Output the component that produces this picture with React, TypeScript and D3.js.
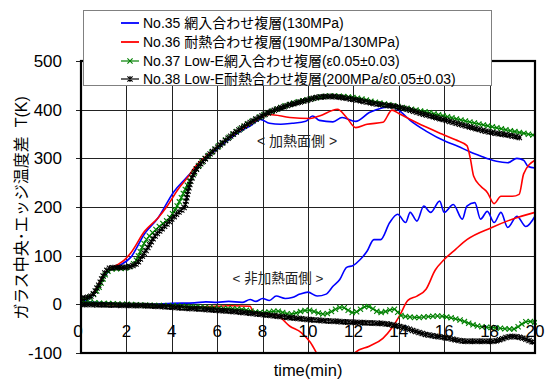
import React, { useEffect, useRef } from "react";
import * as d3 from "d3";

// time (min), temperature difference (K)
const no35Heated: [number, number][] = [
  [0, 5], [0.5, 18], [1, 55], [1.3, 72], [1.7, 80], [2.2, 97], [2.8, 145], [3.4, 178], [4.1, 232], [4.6, 258],
  [5, 278], [5.5, 300], [6, 320], [6.5, 338], [7, 355], [7.5, 368], [7.9, 380], [8.3, 372], [8.8, 370], [9.3, 372],
  [9.9, 376], [10.2, 387], [10.5, 378], [11.1, 375], [11.5, 384], [12.1, 376], [12.7, 394], [13.3, 404], [13.7, 406],
  [14.05, 397], [14.5, 378], [15.2, 356], [16.1, 334], [16.6, 325], [17.1, 314], [17.6, 305], [18.0, 298], [18.3, 294],
  [18.8, 291], [19.2, 300], [19.5, 296], [19.7, 283], [20, 280],
];
const no36Heated: [number, number][] = [
  [0, 8], [0.5, 20], [1, 60], [1.3, 74], [1.63, 82], [1.93, 92], [2.2, 106], [2.8, 150], [3.4, 178], [3.8, 202],
  [4.27, 236], [4.7, 261], [5, 281], [5.7, 312], [6.3, 335], [6.9, 355], [7.5, 372], [8.3, 390], [9.2, 384], [10.1, 382],
  [10.5, 387], [11.3, 401], [11.7, 384], [12.1, 363], [12.6, 370], [13.3, 374], [13.7, 399], [14, 392], [14.8, 373],
  [15.9, 350], [16.5, 338], [17.0, 326], [17.15, 300], [17.3, 263], [17.6, 243], [17.9, 230], [18.2, 207], [18.5, 222],
  [19.0, 222], [19.3, 226], [19.5, 268], [20, 296],
];
const no37Heated: [number, number][] = [
  [0, 10], [0.4, 15], [0.75, 31], [1.06, 60], [1.3, 72], [2, 75], [2.4, 88], [2.8, 127], [3.4, 158], [3.96, 181],
  [4.27, 205], [4.7, 246], [5.2, 285], [5.7, 310], [6.3, 335], [7, 360], [8, 388], [9, 408], [10, 421], [11, 428],
  [12, 425], [13, 415], [14, 406], [15, 397], [16, 387], [17, 376], [18, 366], [19, 356], [20, 347],
];
const no38Heated: [number, number][] = [
  [0, 12], [0.44, 17], [0.75, 37], [1.06, 65], [1.3, 75], [1.93, 76], [2.4, 82], [2.8, 106], [3.26, 140], [3.7, 161],
  [4.27, 188], [4.58, 202], [4.7, 229], [4.85, 255], [5.46, 298], [6, 322], [6.8, 353], [8, 388], [9, 407], [10, 420],
  [10.5, 426], [11, 427], [12, 421], [13, 412], [14, 405], [15, 392], [16, 379], [17, 366], [18, 354], [19, 346], [19.4, 342],
];

const no35Unheated: [number, number][] = [
  [0, 5], [1, 3], [2, 0], [3, 0], [4, 2], [5, 3], [5.5, 5], [6, 4], [6.5, 6], [7.1, 4], [7.45, 10], [7.7, 6], [8, 12],
  [8.3, 8], [8.6, 17], [9, 12], [9.3, 14], [9.65, 21], [10, 25], [10.4, 17], [10.8, 21], [11.1, 37], [11.4, 51],
  [11.7, 76], [12, 80], [12.3, 92], [12.6, 109], [12.9, 133], [13.2, 133], [13.6, 168], [13.95, 185], [14.3, 168],
  [14.5, 189], [14.8, 171], [15.1, 202], [15.4, 189], [15.8, 212], [16, 189], [16.4, 205], [16.8, 175], [17.0, 202],
  [17.35, 209], [17.6, 175], [17.9, 191], [18.2, 168], [18.5, 189], [18.8, 158], [19.2, 181], [19.6, 160], [20, 181],
];
const no36Unheated: [number, number][] = [
  [0, 2], [1, 0], [2, -2], [3, -3], [4, -4], [5, -5], [6, -4], [6.6, -3], [7.45, -4], [7.6, -18], [8.6, -22], [9.2, -45],
  [9.7, -58], [10.1, -78], [10.5, -110], [11.2, -150], [11.9, -110], [12.1, -98], [12.7, -86], [13.3, -70], [13.7, -48],
  [14.05, -22], [14.4, 8], [14.8, 17], [15.2, 31], [15.6, 70], [16, 92], [16.5, 113], [17, 133], [18.1, 158], [19, 175], [20, 189],
];
const no37Unheated: [number, number][] = [
  [0, 5], [1, 2], [2, 0], [3, -2], [4, -3], [5, -5], [6, -8], [7, -10], [8, -17], [8.6, -14], [9.2, -20], [10, -12],
  [10.7, -20], [11.5, -6], [12, -17], [12.6, -4], [13.2, -17], [13.8, -10], [14.1, -23], [14.8, -27], [15.7, -24],
  [16.6, -31], [17.5, -45], [18.2, -48], [19, -51], [19.7, -35], [20, -37],
];
const no38Unheated: [number, number][] = [
  [0, 0], [1, -1], [2, -2], [3, -3], [4, -6], [5, -9], [6, -12], [6.56, -14], [8, -21], [10, -31], [12, -37], [13.4, -40],
  [14, -45], [15.2, -62], [16, -68], [17, -76], [18.1, -76], [19, -66], [19.5, -70], [20, -80],
];

const legendLabels = [
  "No.35 網入合わせ複層(130MPa)",
  "No.36 耐熱合わせ複層(190MPa/130MPa)",
  "No.37 Low-E網入合わせ複層(ε0.05±0.03)",
  "No.38 Low-E耐熱合わせ複層(200MPa/ε0.05±0.03)",
];
const seriesColors = ["#0000ff", "#ff0000", "#008000", "#000000"];
const seriesMarkers = ["none", "none", "x", "star"];
const xTicks = [0, 2, 4, 6, 8, 10, 12, 14, 16, 18, 20];
const yTicks = [-100, 0, 100, 200, 300, 400, 500];

const FONT = "Arial, 'Liberation Sans', 'Noto Sans CJK JP', sans-serif";

export default function App() {
  const ref = useRef<SVGSVGElement>(null);

  useEffect(() => {
    document.body.style.margin = "0";
    const svg = d3.select(ref.current);
    svg.selectAll("*").remove();

    const x = d3.scaleLinear().domain([0, 20]).range([81, 535]);
    const y = d3.scaleLinear().domain([-100, 500]).range([353, 61]);

    svg.append("defs").append("clipPath").attr("id", "plotClip")
      .append("rect").attr("x", 81).attr("y", 61).attr("width", 456).attr("height", 292);

    // grid
    const grid = svg.append("g").attr("stroke", "#222").attr("stroke-width", 1);
    xTicks.slice(1, -1).forEach(t => {
      grid.append("line").attr("x1", Math.round(x(t)) + 0.5).attr("x2", Math.round(x(t)) + 0.5)
        .attr("y1", y(500)).attr("y2", y(-100));
    });
    yTicks.slice(1, -1).forEach(v => {
      grid.append("line").attr("x1", x(0)).attr("x2", x(20))
        .attr("y1", Math.round(y(v)) + 0.5).attr("y2", Math.round(y(v)) + 0.5);
    });
    // x axis ticks at y=0
    xTicks.forEach(t => {
      grid.append("line").attr("x1", Math.round(x(t)) + 0.5).attr("x2", Math.round(x(t)) + 0.5)
        .attr("y1", y(0)).attr("y2", y(0) + 4);
    });
    // y axis ticks
    yTicks.forEach(v => {
      grid.append("line").attr("x1", x(0) - 5).attr("x2", x(0))
        .attr("y1", Math.round(y(v)) + 0.5).attr("y2", Math.round(y(v)) + 0.5);
    });

    // series
    const line = d3.line<[number, number]>().x(d => x(d[0])).y(d => y(d[1])).curve(d3.curveMonotoneX);
    const plot = svg.append("g").attr("clip-path", "url(#plotClip)");
    const groups = [
      [no35Heated, no35Unheated],
      [no36Heated, no36Unheated],
      [no37Heated, no37Unheated],
      [no38Heated, no38Unheated],
    ];
    const drawMarker = (g: any, mx: number, my: number, kind: string, color: string) => {
      const s = 2.6;
      const p = `M${mx - s},${my - s}L${mx + s},${my + s}M${mx - s},${my + s}L${mx + s},${my - s}` +
        (kind === "star" ? `M${mx},${my - s - 0.4}L${mx},${my + s + 0.4}` : "");
      g.append("path").attr("d", p).attr("stroke", color).attr("stroke-width", 1.1).attr("fill", "none");
    };
    groups.forEach((pair, i) => {
      pair.forEach(data => {
        const path = plot.append("path").datum(data).attr("d", line)
          .attr("fill", "none").attr("stroke", seriesColors[i])
          .attr("stroke-width", seriesMarkers[i] === "none" ? 1.6 : 1.2);
        if (seriesMarkers[i] !== "none") {
          const node = path.node() as SVGPathElement;
          const len = node.getTotalLength();
          const step = seriesMarkers[i] === "star" ? 3.4 : 4.6;
          for (let l = 0; l <= len; l += step) {
            const pt = node.getPointAtLength(l);
            drawMarker(plot, pt.x, pt.y, seriesMarkers[i], seriesColors[i]);
          }
        }
      });
    });

    // frame
    const frame = svg.append("g").attr("stroke", "#000").attr("stroke-width", 2.2).attr("fill", "none");
    frame.append("rect").attr("x", x(0)).attr("y", y(500)).attr("width", x(20) - x(0)).attr("height", y(-100) - y(500));

    // tick labels
    svg.append("g").selectAll("text").data(yTicks).join("text")
      .attr("x", 62).attr("y", d => y(d)).attr("dy", "0.35em").attr("text-anchor", "end")
      .attr("font-family", FONT).attr("font-size", 17).text(d => d);
    svg.append("g").selectAll("text").data(xTicks).join("text")
      .attr("x", d => x(d) - (d === 0 ? 3 : 0)).attr("y", 337).attr("text-anchor", "middle")
      .attr("font-family", FONT).attr("font-size", 17).text(d => d);

    // axis titles
    svg.append("text").attr("x", 308).attr("y", 376).attr("text-anchor", "middle")
      .attr("font-family", FONT).attr("font-size", 16.5).text("time(min)");
    svg.append("text").attr("transform", "translate(27,208) rotate(-90)").attr("text-anchor", "middle")
      .attr("font-family", FONT).attr("font-size", 16).attr("xml:space", "preserve")
      .text("ガラス中央･エッジ温度差  T(K)");

    // annotations
    svg.append("text").attr("x", 297).attr("y", 141).attr("dy", "0.35em").attr("text-anchor", "middle")
      .attr("font-family", FONT).attr("font-size", 14).attr("fill", "#222").text("< 加熱面側 >");
    svg.append("text").attr("x", 278).attr("y", 278).attr("dy", "0.35em").attr("text-anchor", "middle")
      .attr("font-family", FONT).attr("font-size", 13.5).attr("fill", "#222").text("< 非加熱面側 >");

    // legend
    const lg = svg.append("g");
    lg.append("rect").attr("x", 83.5).attr("y", 10.5).attr("width", 408).attr("height", 75)
      .attr("fill", "#fff").attr("stroke", "#808080").attr("stroke-width", 1);
    const rows = [23, 42, 61, 79];
    legendLabels.forEach((label, i) => {
      lg.append("line").attr("x1", 121).attr("x2", 139).attr("y1", rows[i]).attr("y2", rows[i])
        .attr("stroke", seriesColors[i]).attr("stroke-width", seriesMarkers[i] === "none" ? 1.8 : 1.2);
      if (seriesMarkers[i] !== "none") drawMarker(lg, 130, rows[i], seriesMarkers[i], seriesColors[i]);
      lg.append("text").attr("x", 143).attr("y", rows[i]).attr("dy", "0.36em")
        .attr("font-family", FONT).attr("font-size", 14).text(label);
    });
  }, []);

  return <svg ref={ref} width={546} height={383} style={{ display: "block", background: "#fff" }} />;
}
